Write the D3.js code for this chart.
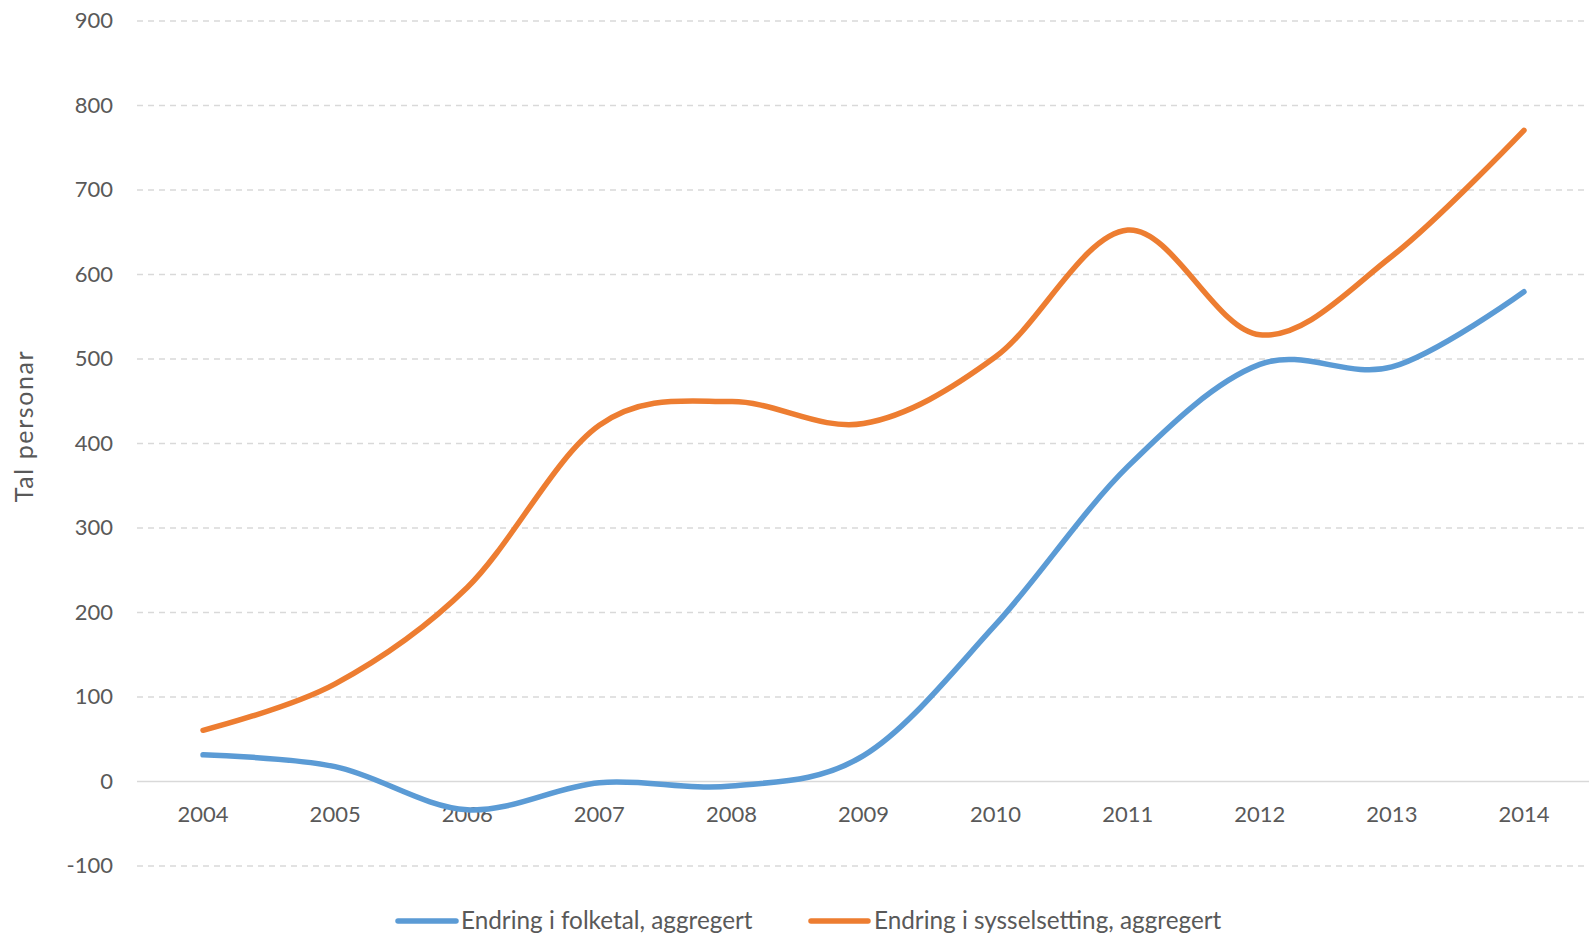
<!DOCTYPE html>
<html><head><meta charset="utf-8">
<script src="https://cdn.jsdelivr.net/npm/d3@7"></script>
<style>body{margin:0;background:#fff}svg{display:block}text{font-family:Lato,"Open Sans",sans-serif;fill:#595959}</style>
</head><body><svg id="c" width="1589" height="936"></svg>
<script>
const years = ["2004","2005","2006","2007","2008","2009","2010","2011","2012","2013","2014"];
const folketal = [31,17,-34,-2,-6,30,185,372,493,490,579];
const sysselsetting = [60,115,229,421,449,423,502,652,528,621,770];
const yTicks = [-100,0,100,200,300,400,500,600,700,800,900];
const seriesNames = ["Endring i folketal, aggregert","Endring i sysselsetting, aggregert"];
const colors = ["#5B9BD5","#ED7D31"];

const svg = d3.select("#c");
const x = d3.scaleBand().domain(years).range([137,1590]);
const y = d3.scaleLinear().domain([-100,900]).range([865.5,20.5]);

const gy = svg.append("g").attr("transform","translate(137,0)")
  .call(d3.axisLeft(y).tickValues(yTicks).tickFormat(d=>String(d)).tickSize(-1453).tickPadding(24));
gy.select(".domain").remove();
gy.selectAll(".tick line").attr("stroke","#D9D9D9").attr("stroke-width",1.5)
  .attr("stroke-dasharray",d=>d===0?null:"6,5");
gy.selectAll(".tick text").attr("font-size",22).style("fill","#595959");

const gx = svg.append("g").attr("transform",`translate(0,${y(0)})`)
  .call(d3.axisBottom(x).tickSize(0).tickPadding(25));
gx.select(".domain").remove();
gx.selectAll(".tick text").attr("font-size",22).style("fill","#595959");

svg.append("text").attr("transform","translate(33,426) rotate(-90)")
  .attr("text-anchor","middle").attr("font-size",25).attr("letter-spacing",1.6).text("Tal personar");

const line = d3.line().x((d,i)=>x(years[i])+x.bandwidth()/2).y(d=>y(d)).curve(d3.curveCardinal.tension(0));
[folketal,sysselsetting].forEach((s,k)=>{
  svg.append("path").attr("d",line(s)).attr("fill","none").attr("stroke",colors[k])
    .attr("stroke-width",5.5).attr("stroke-linecap","round");
});

const leg = [[398,456,461],[811,868,874]];
seriesNames.forEach((n,k)=>{
  svg.append("line").attr("x1",leg[k][0]).attr("x2",leg[k][1]).attr("y1",921).attr("y2",921)
    .attr("stroke",colors[k]).attr("stroke-width",5.5).attr("stroke-linecap","round");
  svg.append("text").attr("x",leg[k][2]).attr("y",929).attr("font-size",24.3).text(n);
});
</script></body></html>
